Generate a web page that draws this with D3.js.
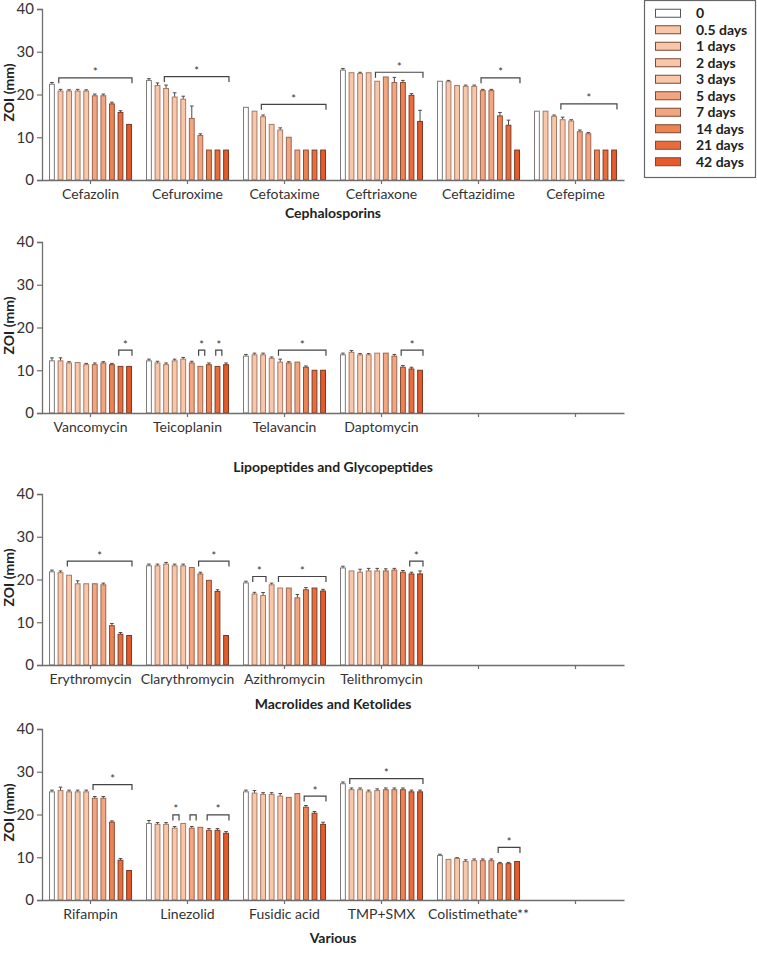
<!DOCTYPE html>
<html>
<head>
<meta charset="utf-8">
<script src="https://cdn.jsdelivr.net/npm/d3@7"></script>
<style>
  html, body { margin: 0; padding: 0; background: #fff; }
  svg { display: block; }
  text { font-family: "Lato", "Open Sans", sans-serif; }
</style>
</head>
<body>
<svg id="chart" width="757" height="953"></svg>
<script>
// ---------------- DATA ----------------
const seriesNames = ["0", "0.5 days", "1 days", "2 days", "3 days", "5 days", "7 days", "14 days", "21 days", "42 days"];
const yTicks = [0, 10, 20, 30, 40];

const cephCategories = ["Cefazolin", "Cefuroxime", "Cefotaxime", "Ceftriaxone", "Ceftazidime", "Cefepime"];
const cephValues = [
  [22.4, 20.8, 20.8, 20.8, 20.8, 19.7, 19.7, 17.8, 15.8, 13.0],
  [23.3, 22.1, 21.4, 19.4, 18.9, 14.4, 10.4, 7.0, 7.0, 7.0],
  [17.0, 16.1, 14.8, 13.0, 11.7, 10.0, 7.0, 7.0, 7.0, 7.0],
  [25.7, 25.1, 24.9, 25.1, 23.1, 24.1, 22.8, 22.8, 19.8, 13.7],
  [23.1, 23.0, 22.1, 21.9, 21.9, 20.9, 20.9, 15.0, 12.8, 7.0],
  [16.1, 16.1, 14.9, 14.1, 13.8, 11.3, 10.8, 7.0, 7.0, 7.0]
];
const cephErrors = [
  [0.4, 0.4, 0.3, 0.4, 0.3, 0.4, 0.4, 0.4, 0.4, 0],
  [0.4, 0.6, 0.8, 1.0, 0.7, 2.9, 0.4, 0, 0, 0],
  [0, 0, 0.4, 0, 0.5, 0, 0, 0, 0, 0],
  [0.4, 0, 0.3, 0, 0, 0, 1.2, 0.5, 0.4, 2.6],
  [0, 0.3, 0, 0.3, 0.3, 0.3, 0.3, 0.8, 1.2, 0],
  [0, 0, 0.3, 0.6, 0.3, 0.4, 0.3, 0, 0, 0]
];
// [category index, first bar, last bar, level, star]
const cephBrackets = [
  [0, 1, 9, 23.9, true], [1, 2, 9, 24.2, true], [2, 2, 9, 17.7, true],
  [3, 4, 9, 25.2, true], [4, 5, 9, 23.9, true], [5, 3, 9, 17.8, true]
];

const glycoCategories = ["Vancomycin", "Teicoplanin", "Telavancin", "Daptomycin"];
const glycoValues = [
  [12.2, 12.2, 11.7, 11.8, 11.3, 11.3, 11.7, 11.3, 10.9, 10.9],
  [12.2, 11.7, 11.3, 12.2, 12.6, 11.7, 10.9, 11.3, 10.9, 11.3],
  [13.3, 13.6, 13.6, 12.8, 11.9, 11.7, 11.9, 10.7, 10.0, 10.0],
  [13.6, 14.2, 13.6, 13.6, 14.0, 14.0, 13.3, 10.7, 10.3, 10.0]
];
const glycoErrors = [
  [0.7, 0.7, 0.3, 0, 0.3, 0.4, 0.3, 0.3, 0, 0],
  [0.4, 0.4, 0.4, 0.4, 0.4, 0.4, 0, 0.4, 0, 0.4],
  [0.4, 0.4, 0.4, 0.3, 0.7, 0.3, 0, 0.3, 0, 0],
  [0.4, 0.4, 0.3, 0.3, 0, 0, 0.4, 0.4, 0.4, 0]
];
const glycoBrackets = [
  [0, 8, 9, 14.7, true], [1, 6, 6, 14.7, true], [1, 8, 8, 14.7, true],
  [2, 4, 9, 14.7, true], [3, 7, 9, 14.7, true]
];

const macroCategories = ["Erythromycin", "Clarythromycin", "Azithromycin", "Telithromycin"];
const macroValues = [
  [21.8, 21.6, 21.0, 19.0, 19.0, 19.0, 18.75, 9.2, 7.2, 6.9],
  [23.2, 23.2, 23.6, 23.2, 23.2, 22.8, 21.3, 19.8, 17.2, 6.9],
  [19.2, 16.6, 16.25, 18.75, 18.0, 18.0, 15.7, 17.6, 18.0, 17.3],
  [22.7, 22.0, 21.7, 22.0, 22.0, 22.0, 22.2, 21.7, 21.3, 21.3]
];
const macroErrors = [
  [0.4, 0.4, 0, 0.7, 0, 0, 0.4, 0.5, 0.4, 0],
  [0.4, 0.4, 0.4, 0.4, 0.4, 0, 0.4, 0, 0.4, 0],
  [0.4, 0.4, 0.7, 0.4, 0, 0, 0.8, 0.5, 0, 0.4],
  [0.4, 0, 0.7, 0.6, 0.6, 0.5, 0.4, 0.4, 0.4, 0.7]
];
const macroBrackets = [
  [0, 2, 9, 24.3, true], [1, 6, 9, 24.3, true], [2, 1, 2, 20.7, true],
  [2, 4, 9, 20.7, true], [3, 8, 9, 24.3, true]
];

const variousCategories = ["Rifampin", "Linezolid", "Fusidic acid", "TMP+SMX", "Colistimethate**"];
const variousValues = [
  [25.3, 25.6, 25.3, 25.3, 25.3, 23.8, 23.8, 18.2, 9.3, 6.9],
  [17.9, 17.7, 17.7, 16.8, 17.9, 16.8, 17.0, 16.3, 16.3, 15.6],
  [25.3, 25.0, 24.7, 24.7, 24.3, 24.0, 24.9, 21.7, 20.3, 17.7],
  [27.2, 25.8, 25.8, 25.3, 25.6, 25.8, 25.8, 25.8, 25.3, 25.3],
  [10.4, 9.5, 9.7, 9.0, 9.2, 9.2, 9.2, 8.5, 8.5, 9.0]
];
const variousErrors = [
  [0.4, 0.8, 0.4, 0.4, 0.4, 0.4, 0.4, 0.3, 0.4, 0],
  [0.7, 0.4, 0.4, 0.4, 0, 0.4, 0, 0.4, 0.4, 0.4],
  [0.4, 0.6, 0.4, 0.4, 0.6, 0, 0, 0.4, 0.4, 0.5],
  [0.4, 0.4, 0.4, 0.4, 0.4, 0.4, 0.4, 0.4, 0.4, 0.4],
  [0.3, 0, 0.2, 0.4, 0.4, 0.4, 0.4, 0.3, 0.3, 0]
];
const variousBrackets = [
  [0, 5, 9, 27.0, true], [1, 3, 3, 19.9, true], [1, 5, 5, 19.9, false],
  [1, 7, 9, 19.9, true], [2, 7, 9, 24.3, true], [3, 1, 9, 28.4, true],
  [4, 7, 9, 12.3, true]
];

const panelTitles = ["Cephalosporins", "Lipopeptides and Glycopeptides", "Macrolides and Ketolides", "Various"];

// ---------------- STYLE ----------------
const fills = ["#ffffff", "#f8c6a8", "#f8c6a8", "#f8c6a8", "#f8c6a8", "#f3a57f", "#f3a57f", "#ed8352", "#e96c3d", "#e65a2c"];
const strokes = ["#7a7a7a", "#a87a66", "#a87a66", "#a87a66", "#a87a66", "#9a6550", "#9a6550", "#8a4c34", "#7e3e26", "#7a3820"];
const axisColor = "#6e6e6e";
const textColor = "#333333";

const svg = d3.select("#chart");
const xLeft = 42, xRight = 624, nSlots = 6;

const panels = [
  { cats: cephCategories, vals: cephValues, errs: cephErrors, br: cephBrackets, y0: 180, y40: 9, titleDy: 33 },
  { cats: glycoCategories, vals: glycoValues, errs: glycoErrors, br: glycoBrackets, y0: 413, y40: 242, titleDy: 54 },
  { cats: macroCategories, vals: macroValues, errs: macroErrors, br: macroBrackets, y0: 665, y40: 494, titleDy: 39 },
  { cats: variousCategories, vals: variousValues, errs: variousErrors, br: variousBrackets, y0: 900, y40: 729, titleDy: 38 }
];

const x0 = d3.scaleBand().domain(d3.range(nSlots)).range([xLeft, xRight]).paddingInner(0).paddingOuter(0);
const x1 = d3.scaleBand().domain(d3.range(seriesNames.length)).range([0, x0.bandwidth()]).paddingInner(0.32).paddingOuter(0.82);
const bw = x1.bandwidth();

panels.forEach((p, pi) => {
  const y = d3.scaleLinear().domain([0, 40]).range([p.y0, p.y40]);
  const g = svg.append("g");

  // y axis
  const yAxis = g.append("g").attr("transform", `translate(${xLeft},0)`)
    .call(d3.axisLeft(y).tickValues(yTicks).tickSize(5).tickPadding(3));
  yAxis.select(".domain").attr("stroke", axisColor).attr("stroke-width", 1.3);
  yAxis.selectAll(".tick line").attr("stroke", axisColor).attr("stroke-width", 1.2);
  yAxis.selectAll(".tick text").attr("fill", textColor).style("font-size", "15px").style("font-family", "Lato, sans-serif");

  // y label
  g.append("text")
    .attr("transform", `translate(14,${(p.y0 + p.y40) / 2 - 2}) rotate(-90)`)
    .attr("text-anchor", "middle")
    .attr("fill", "#222")
    .style("font-size", "14px").style("font-weight", "bold")
    .text("ZOI (mm)");

  // bars
  p.vals.forEach((vals, ci) => {
    const cg = g.append("g").attr("transform", `translate(${x0(ci)},0)`);
    // error bars (behind bars)
    cg.selectAll("line.err").data(vals.map((v, i) => ({ v, e: p.errs[ci][i], i })).filter(d => d.e > 0))
      .join("g")
      .each(function (d) {
        const cx = x1(d.i) + bw / 2;
        const sel = d3.select(this);
        sel.append("line").attr("x1", cx).attr("x2", cx).attr("y1", y(d.v)).attr("y2", y(d.v + d.e))
          .attr("stroke", "#4a4a4a").attr("stroke-width", 1);
        sel.append("line").attr("x1", cx - 1.8).attr("x2", cx + 1.8).attr("y1", y(d.v + d.e)).attr("y2", y(d.v + d.e))
          .attr("stroke", "#4a4a4a").attr("stroke-width", 1);
      });
    cg.selectAll("rect").data(vals.map((v, i) => ({ v, i })))
      .join("rect")
      .attr("x", d => x1(d.i) + 0.5)
      .attr("y", d => y(d.v))
      .attr("width", bw - 1)
      .attr("height", d => y(0) - y(d.v))
      .attr("fill", d => fills[d.i])
      .attr("stroke", d => strokes[d.i])
      .attr("stroke-width", 1);
  });

  // x axis
  const names = d3.range(nSlots).map(i => p.cats[i] || "");
  const xAxis = g.append("g").attr("transform", `translate(0,${p.y0})`)
    .call(d3.axisBottom(x0).tickSize(4).tickPadding(5).tickSizeOuter(0).tickFormat(i => names[i]));
  xAxis.select(".domain").attr("stroke", axisColor).attr("stroke-width", 1.3);
  xAxis.selectAll(".tick line").attr("stroke", axisColor).attr("stroke-width", 1.2);
  xAxis.selectAll(".tick text").attr("fill", textColor).style("font-size", "14px").style("font-family", "Lato, sans-serif");

  // significance brackets
  p.br.forEach(([ci, s, e, lvl, star]) => {
    const xa = x0(ci) + x1(s) + bw * 0.2;
    const xb = x0(ci) + x1(e) + bw * (s === e ? 1.25 : 1.0);
    const yl = y(lvl);
    g.append("path")
      .attr("d", `M${xa},${yl + 5.5}V${yl}H${xb}V${yl + 5.5}`)
      .attr("fill", "none").attr("stroke", "#444").attr("stroke-width", 1.2);
    if (star) {
      g.append("text")
        .attr("x", (xa + xb) / 2).attr("y", yl - 1.5)
        .attr("text-anchor", "middle")
        .attr("fill", "#333")
        .style("font-size", "11px")
        .text("*");
    }
  });

  // panel title
  g.append("text")
    .attr("x", (xLeft + xRight) / 2).attr("y", p.y0 + p.titleDy + 5)
    .attr("text-anchor", "middle")
    .attr("fill", "#222")
    .style("font-size", "14px").style("font-weight", "bold")
    .text(panelTitles[pi]);
});

// legend
const lg = svg.append("g");
lg.append("rect").attr("x", 644.5).attr("y", 0.5).attr("width", 111).attr("height", 177)
  .attr("fill", "#fff").attr("stroke", "#666").attr("stroke-width", 1.2);
const ly = d3.scaleBand().domain(d3.range(seriesNames.length)).range([5, 170]);
seriesNames.forEach((name, i) => {
  const cy = ly(i) + ly.bandwidth() / 2;
  lg.append("rect").attr("x", 655.5).attr("y", cy - 4).attr("width", 25).attr("height", 8)
    .attr("fill", fills[i]).attr("stroke", i === 0 ? "#555" : "#7a4a36").attr("stroke-width", 1);
  lg.append("text").attr("x", 696).attr("y", cy + 5)
    .attr("fill", "#222")
    .style("font-size", "14px").style("font-weight", "bold")
    .text(name);
});
</script>
</body>
</html>
